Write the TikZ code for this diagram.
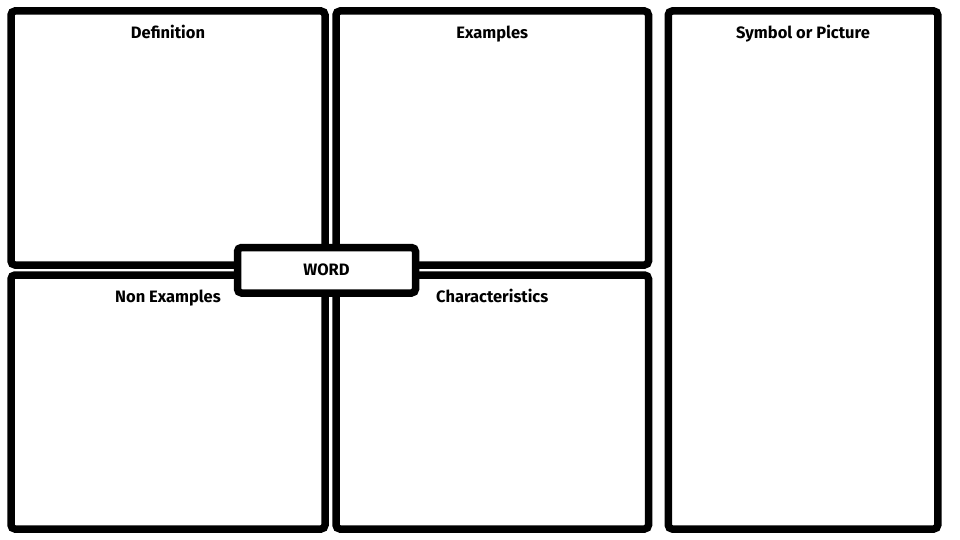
\documentclass[tikz,border=0pt]{standalone}
\usepackage{fontspec}
\setmainfont{Fira Sans}
\usetikzlibrary{positioning}
\begin{document}
\begin{tikzpicture}[x=1pt,y=-1pt,
    panel/.style={draw=black, line width=7.5pt, rounded corners=4pt, fill=white, inner sep=0pt},
    heading/.style={font=\fontsize{16.5}{19}\selectfont\bfseries, inner sep=0pt, text height=12pt, text depth=3.5pt},
  ]
  \useasboundingbox (0,0) rectangle (960,540);

  % the five panels
  \node[panel, minimum width=314pt, minimum height=254pt] (def) at (168,138) {};
  \node[panel, minimum width=312.5pt, minimum height=254pt] (ex) at (492.25,138) {};
  \node[panel, minimum width=314pt, minimum height=254pt] (nonex) at (168,402) {};
  \node[panel, minimum width=312.5pt, minimum height=254pt] (char) at (492.25,402) {};
  \node[panel, minimum width=269.5pt, minimum height=518pt] (sym) at (803,270) {};

  % headings
  \node[heading, below=19pt of def.north] (defT) {Definition};
  \node[heading, below=19pt of ex.north] (exT) {Examples};
  \node[heading, below=19pt of sym.north] (symT) {Symbol or Picture};
  \node[heading, below=19pt of nonex.north] (nonexT) {Non Examples};
  \node[heading, below=19pt of char.north] (charT) {Characteristics};

  % the word in the middle
  \node[panel, minimum width=178pt, minimum height=45.5pt, font=\fontsize{16.5}{19}\selectfont\bfseries] (word) at (326.5,270.25) {WORD};
\end{tikzpicture}
\end{document}
